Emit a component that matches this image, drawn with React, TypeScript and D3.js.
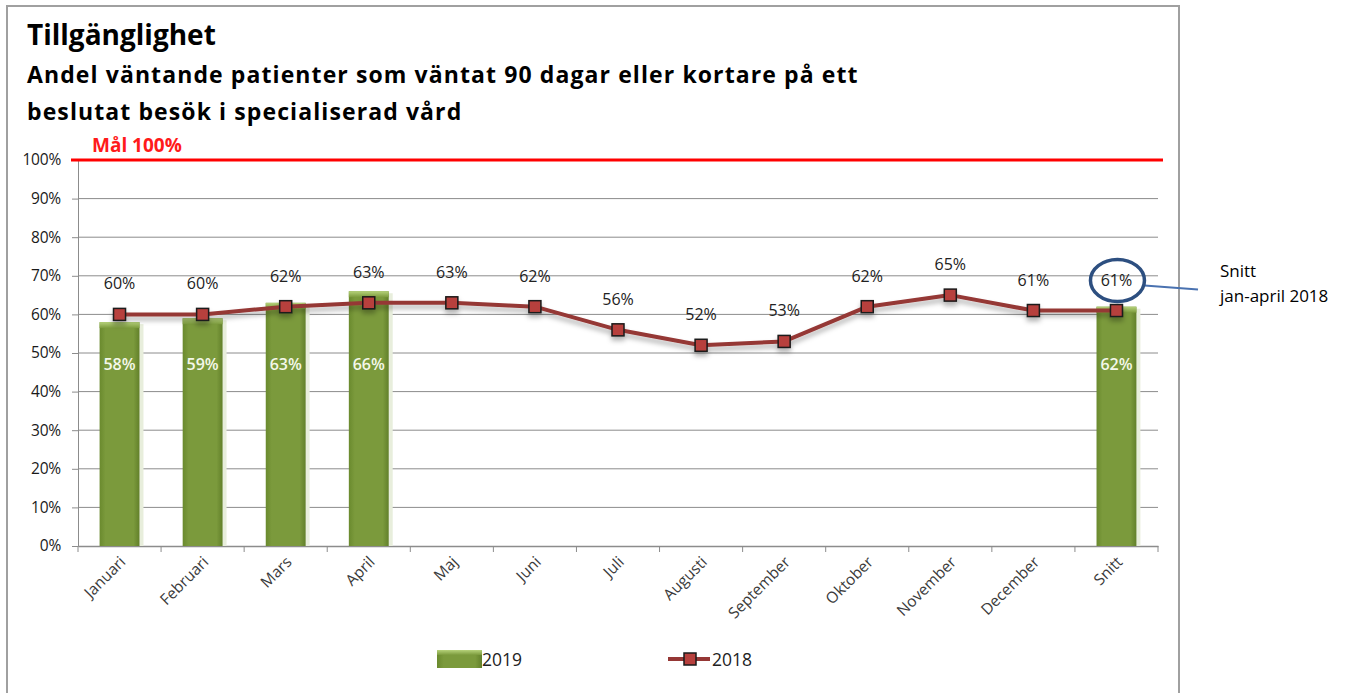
import React, { useEffect, useRef } from 'react';
import * as d3 from 'd3';

// chart values
const months = ['Januari', 'Februari', 'Mars', 'April', 'Maj', 'Juni', 'Juli', 'Augusti', 'September', 'Oktober', 'November', 'December', 'Snitt'];
const values2019: (number | null)[] = [58, 59, 63, 66, null, null, null, null, null, null, null, null, 62];
const values2018 = [60, 60, 62, 63, 63, 62, 56, 52, 53, 62, 65, 61, 61];
const yTicks = [0, 10, 20, 30, 40, 50, 60, 70, 80, 90, 100];
const goal = 100;

const titleLines = ['Andel väntande patienter som väntat 90 dagar eller kortare på ett', 'beslutat besök i specialiserad vård'];

const FONT = '"Open Sans", Lato, sans-serif';

export default function App() {
  const ref = useRef<SVGSVGElement | null>(null);

  useEffect(() => {
    const svg = d3.select(ref.current);
    svg.selectAll('*').remove();

    const left = 78, right = 1158, top = 160, bottom = 546;

    const x = d3.scaleBand<string>().domain(months).range([left, right]);
    const y = d3.scaleLinear().domain([0, 100]).range([bottom, top]);
    const cx = (m: string) => (x(m) as number) + x.bandwidth() / 2;
    const barW = x.bandwidth() * 0.48;

    const defs = svg.append('defs');
    const grad = defs.append('linearGradient').attr('id', 'barGrad').attr('x1', 0).attr('x2', 1).attr('y1', 0).attr('y2', 0);
    grad.append('stop').attr('offset', '0%').attr('stop-color', '#6a8a2e');
    grad.append('stop').attr('offset', '15%').attr('stop-color', '#7b9a3c');
    grad.append('stop').attr('offset', '85%').attr('stop-color', '#7b9a3c');
    grad.append('stop').attr('offset', '100%').attr('stop-color', '#62802a');
    const capGrad = defs.append('linearGradient').attr('id', 'capGrad').attr('x1', 0).attr('x2', 0).attr('y1', 0).attr('y2', 1);
    capGrad.append('stop').attr('offset', '0%').attr('stop-color', '#b6d27a');
    capGrad.append('stop').attr('offset', '100%').attr('stop-color', '#7b9a3c');
    const shadow = defs.append('filter').attr('id', 'lineShadow').attr('x', '-10%').attr('y', '-50%').attr('width', '120%').attr('height', '300%');
    shadow.append('feDropShadow').attr('dx', 0).attr('dy', 4).attr('stdDeviation', 2.5).attr('flood-color', '#000').attr('flood-opacity', 0.3);

    // outer frame
    svg.append('rect')
      .attr('x', 7).attr('y', 6).attr('width', 1172).attr('height', 700)
      .attr('fill', 'white').attr('stroke', '#a0a0a0').attr('stroke-width', 2);

    // titles
    svg.append('text').attr('x', 27).attr('y', 45)
      .attr('font-family', FONT).attr('font-weight', 700).attr('font-size', 28).attr('fill', '#000')
      .text('Tillgänglighet');
    svg.selectAll('text.sub').data(titleLines).join('text')
      .attr('class', 'sub')
      .attr('x', 27).attr('y', (d, i) => 83 + i * 37)
      .attr('font-family', FONT).attr('font-weight', 700).attr('font-size', 23).attr('letter-spacing', 1.1).attr('fill', '#000')
      .text(d => d);

    // grid
    svg.append('g').selectAll('line').data(yTicks.filter(t => t > 0 && t < 100)).join('line')
      .attr('x1', left).attr('x2', right)
      .attr('y1', d => y(d)).attr('y2', d => y(d))
      .attr('stroke', '#8c8c8c').attr('stroke-width', 1);

    // y axis
    const yAxis = svg.append('g').attr('transform', `translate(${left},0)`)
      .call(d3.axisLeft(y).tickValues(yTicks).tickSize(6).tickPadding(11).tickFormat(d => `${d}%`));
    yAxis.select('.domain').attr('stroke', '#8c8c8c');
    yAxis.selectAll('.tick line').attr('stroke', '#8c8c8c');
    yAxis.selectAll('.tick text').attr('font-family', FONT).attr('font-size', 15.5).attr('fill', '#1a1a1a').attr('letter-spacing', '-0.2');

    // x axis
    const xAxis = svg.append('g').attr('transform', `translate(0,${bottom})`)
      .call(d3.axisBottom(x).tickSize(0).tickFormat(() => ''));
    xAxis.select('.domain').attr('stroke', '#8c8c8c').attr('stroke-width', 1.5);
    svg.append('g').selectAll('line').data(months.concat(['end'])).join('line')
      .attr('x1', (d, i) => i < months.length ? (x(d) as number) : right)
      .attr('x2', (d, i) => i < months.length ? (x(d) as number) : right)
      .attr('y1', bottom).attr('y2', bottom + 6)
      .attr('stroke', '#8c8c8c');
    svg.append('g').selectAll('text').data(months).join('text')
      .attr('transform', d => `translate(${cx(d) + 7},${bottom + 17}) rotate(-45)`)
      .attr('text-anchor', 'end')
      .attr('font-family', FONT).attr('font-size', 15.5).attr('fill', '#3a3a3a')
      .text(d => d);

    // goal line
    svg.append('line')
      .attr('x1', 71).attr('x2', 1163)
      .attr('y1', y(goal)).attr('y2', y(goal))
      .attr('stroke', '#ff0000').attr('stroke-width', 3);
    svg.append('text').attr('x', 92).attr('y', 152)
      .attr('font-family', FONT).attr('font-weight', 700).attr('font-size', 19).attr('fill', '#ff1a1a')
      .text('Mål 100%');

    // bars 2019
    const bars = months.map((m, i) => ({ m, v: values2019[i] })).filter(d => d.v != null) as { m: string; v: number }[];
    const bg = svg.append('g');
    bg.selectAll('rect.shadow').data(bars).join('rect')
      .attr('class', 'shadow')
      .attr('x', d => cx(d.m) - barW / 2 + 2).attr('width', barW + 2)
      .attr('y', d => y(d.v) + 2).attr('height', d => bottom - y(d.v) - 2)
      .attr('fill', '#e8eedc');
    bg.selectAll('rect.bar').data(bars).join('rect')
      .attr('class', 'bar')
      .attr('x', d => cx(d.m) - barW / 2).attr('width', barW)
      .attr('y', d => y(d.v)).attr('height', d => bottom - y(d.v))
      .attr('fill', 'url(#barGrad)');
    bg.selectAll('rect.cap').data(bars).join('rect')
      .attr('class', 'cap')
      .attr('x', d => cx(d.m) - barW / 2).attr('width', barW)
      .attr('y', d => y(d.v)).attr('height', 6)
      .attr('fill', 'url(#capGrad)');
    bg.selectAll('text').data(bars).join('text')
      .attr('x', d => cx(d.m)).attr('y', y(47) + 5)
      .attr('text-anchor', 'middle')
      .attr('font-family', FONT).attr('font-weight', 600).attr('font-size', 16).attr('fill', '#f4f8ea')
      .text(d => `${d.v}%`);

    // line 2018
    const line = d3.line<number>().x((d, i) => cx(months[i])).y(d => y(d));
    const lg = svg.append('g').attr('filter', 'url(#lineShadow)');
    lg.append('path').attr('d', line(values2018))
      .attr('fill', 'none').attr('stroke', '#953735').attr('stroke-width', 4).attr('stroke-linejoin', 'round');
    lg.selectAll('rect').data(values2018).join('rect')
      .attr('x', (d, i) => cx(months[i]) - 6).attr('y', d => y(d) - 6)
      .attr('width', 12).attr('height', 12)
      .attr('fill', '#b7403d').attr('stroke', '#1a1a1a').attr('stroke-width', 1.5);
    svg.append('g').selectAll('text').data(values2018).join('text')
      .attr('x', (d, i) => cx(months[i])).attr('y', d => y(d) - 25)
      .attr('text-anchor', 'middle')
      .attr('font-family', FONT).attr('font-size', 16).attr('fill', '#222')
      .text(d => `${d}%`);

    // annotation on the average
    const last = months[months.length - 1];
    const ax = cx(last), ay = y(values2018[values2018.length - 1]) - 30;
    svg.append('line')
      .attr('x1', ax + 28).attr('y1', ay + 5).attr('x2', 1198).attr('y2', ay + 9)
      .attr('stroke', '#4a72b0').attr('stroke-width', 2);
    svg.append('ellipse')
      .attr('cx', ax + 1).attr('cy', ay).attr('rx', 27).attr('ry', 21)
      .attr('fill', 'none').attr('stroke', '#2d4f80').attr('stroke-width', 3.5);
    svg.append('text').attr('x', 1220).attr('y', 277)
      .attr('font-family', FONT).attr('font-size', 17).attr('fill', '#000')
      .text('Snitt');
    svg.append('text').attr('x', 1220).attr('y', 302)
      .attr('font-family', FONT).attr('font-size', 17).attr('fill', '#000')
      .text('jan-april 2018');

    // legend
    const leg = svg.append('g');
    leg.append('rect').attr('x', 437).attr('y', 650).attr('width', 45).attr('height', 18).attr('fill', 'url(#barGrad)');
    leg.append('rect').attr('x', 437).attr('y', 650).attr('width', 45).attr('height', 5).attr('fill', 'url(#capGrad)');
    leg.append('text').attr('x', 482).attr('y', 666)
      .attr('font-family', FONT).attr('font-size', 17.5).attr('fill', '#222').text('2019');
    leg.append('line').attr('x1', 668).attr('x2', 710).attr('y1', 659).attr('y2', 659)
      .attr('stroke', '#953735').attr('stroke-width', 4);
    leg.append('rect').attr('x', 684).attr('y', 653).attr('width', 12).attr('height', 12)
      .attr('fill', '#b7403d').attr('stroke', '#1a1a1a').attr('stroke-width', 1.5);
    leg.append('text').attr('x', 712).attr('y', 666)
      .attr('font-family', FONT).attr('font-size', 17.5).attr('fill', '#222').text('2018');
  }, []);

  return (
    <svg ref={ref} width={1353} height={693} style={{ position: 'absolute', left: 0, top: 0, background: 'white' }} />
  );
}
